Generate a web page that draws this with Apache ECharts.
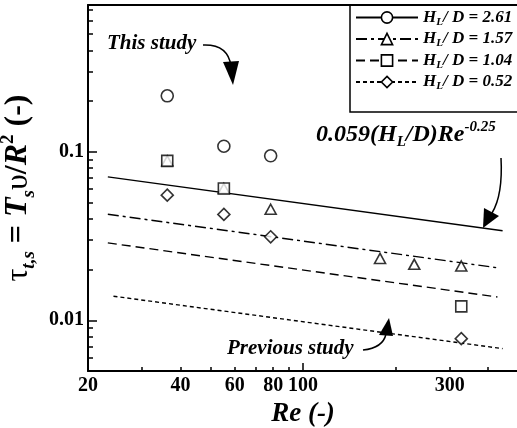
<!DOCTYPE html>
<html>
<head>
<meta charset="utf-8">
<script src="https://cdn.jsdelivr.net/npm/echarts@6/dist/echarts.min.js"></script>
<style>
  html, body { margin: 0; padding: 0; background: #fff; overflow: hidden; }
  #chart { width: 517px; height: 428px; }
</style>
</head>
<body>
<div id="chart"></div>
<script>
// axis ticks / labels
const reLabels = [20, 40, 60, 80, 100, 300];
const reMinorTicks = [20, 30, 40, 50, 60, 70, 80, 90, 200, 300, 400, 500];
const reMajorTicks = [100];
const tauLabels = [0.01, 0.1];
const tauMinorTicks = [0.006, 0.007, 0.008, 0.009, 0.02, 0.03, 0.04, 0.05, 0.06, 0.07, 0.08, 0.09, 0.2, 0.3, 0.4, 0.5, 0.6, 0.7];

const re261 = [36.2, 55.3, 78.5];
const tau261 = [0.215, 0.108, 0.0947];
const re157 = [36.2, 55.3, 78.5, 178, 230, 327];
const tau157 = [0.0884, 0.0606, 0.0456, 0.0233, 0.0215, 0.0210];
const re104 = [36.2, 55.3, 327];
const tau104 = [0.0884, 0.0606, 0.0121];
const re052 = [36.2, 55.3, 78.5, 327];
const tau052 = [0.0553, 0.0425, 0.0313, 0.00778];

// correlation lines, end points
const fitRe261 = [23.2, 445.6];
const fit261 = [0.0710, 0.0340];
const fitRe157 = [23.2, 428.6];
const fit157 = [0.0426, 0.0205];
const fitRe104 = [23.2, 428.6];
const fit104 = [0.0288, 0.01375];
const fitRe052 = [24.2, 445.6];
const fit052 = [0.0139, 0.00679];

const serif = "'Liberation Serif', 'Times New Roman', serif";
const diamond = 'path://M0,-1L1,0L0,1L-1,0Z';

const pairs = (xs, ys) => xs.map((x, i) => [x, ys[i]]);

const markStyle = { color: '#fff', borderColor: '#000', borderWidth: 1.6 };

const groups = [
  { name: 'H_L/D = 2.61', sym: 'circle', size: 12, dash: 'solid', fx: fitRe261, fy: fit261, px: re261, py: tau261 },
  { name: 'H_L/D = 1.57', sym: 'triangle', size: [11, 10], dash: [11, 4, 3, 4], fx: fitRe157, fy: fit157, px: re157, py: tau157 },
  { name: 'H_L/D = 1.04', sym: 'rect', size: 11, dash: [9, 5], fx: fitRe104, fy: fit104, px: re104, py: tau104 },
  { name: 'H_L/D = 0.52', sym: diamond, size: 12, dash: [4, 3], fx: fitRe052, fy: fit052, px: re052, py: tau052 }
];

const series = [];
groups.forEach(g => {
  series.push({
    name: g.name,
    type: 'line',
    data: pairs(g.fx, g.fy),
    showSymbol: false,
    symbol: g.sym,
    itemStyle: markStyle,
    lineStyle: { color: '#000', width: 1.4, type: g.dash },
    z: 2,
    silent: true
  });
});
groups.forEach(g => {
  series.push({
    name: g.name,
    type: 'scatter',
    data: pairs(g.px, g.py),
    symbol: g.sym,
    symbolSize: g.size,
    itemStyle: markStyle,
    z: 3,
    silent: true
  });
});

const chart = echarts.init(document.getElementById('chart'));
chart.setOption({
  animation: false,
  grid: { left: 88, top: 5, width: 430, height: 366, containLabel: false, outerBoundsMode: 'none' },
  legend: {
    data: groups.map(g => g.name),
    orient: 'vertical',
    left: 355,
    top: 9,
    padding: 0,
    itemWidth: 62,
    itemHeight: 14,
    itemGap: 3,
    selectedMode: false,
    itemStyle: { borderWidth: 1.6 },
    formatter: name => '{h|H}{s|L}{h|/ D = ' + name.split('= ')[1] + '}',
    textStyle: {
      rich: {
        h: { fontFamily: serif, fontWeight: 'bold', fontStyle: 'italic', fontSize: 17, lineHeight: 20, color: '#000' },
        s: { fontFamily: serif, fontWeight: 'bold', fontStyle: 'italic', fontSize: 11, lineHeight: 10, verticalAlign: 'bottom', color: '#000' }
      }
    }
  },
  xAxis: [
    {
      type: 'log', min: 20, max: 500, position: 'bottom',
      axisLine: { show: true, lineStyle: { color: '#000', width: 2 } },
      axisTick: { inside: true, length: 4, customValues: reMinorTicks, lineStyle: { color: '#000', width: 1.5 } },
      axisLabel: { customValues: reLabels, color: '#000', fontFamily: serif, fontWeight: 'bold', fontSize: 20, margin: 5 },
      splitLine: { show: false },
      name: 'Re (-)', nameLocation: 'middle', nameGap: 26,
      nameTextStyle: { color: '#000', fontFamily: serif, fontWeight: 'bold', fontStyle: 'italic', fontSize: 27 }
    },
    {
      type: 'log', min: 20, max: 500, position: 'bottom',
      axisLine: { show: false },
      axisTick: { inside: true, length: 8, customValues: reMajorTicks, lineStyle: { color: '#000', width: 1.5 } },
      axisLabel: { show: false },
      splitLine: { show: false }
    },
    {
      type: 'log', min: 20, max: 500, position: 'top',
      axisLine: { show: true, lineStyle: { color: '#000', width: 2 } },
      axisTick: { show: false },
      axisLabel: { show: false },
      splitLine: { show: false }
    }
  ],
  yAxis: [
    {
      type: 'log', min: 0.005, max: 0.744, position: 'left',
      axisLine: { show: true, lineStyle: { color: '#000', width: 2 } },
      axisTick: { inside: true, length: 5, customValues: tauMinorTicks, lineStyle: { color: '#000', width: 1.5 } },
      axisLabel: { customValues: tauLabels, color: '#000', fontFamily: serif, fontWeight: 'bold', fontSize: 20, margin: 4, formatter: v => String(v) },
      splitLine: { show: false },
      name: '{g|τ}{sub|t,s}{n| = }{b|T}{sub|s}{g|υ}{n|/}{b|R}{sup|2}{n| (-)}',
      nameLocation: 'middle', nameGap: 40, nameRotate: 90,
      nameTextStyle: {
        rich: {
          g: { fontFamily: serif, fontSize: 32, lineHeight: 40, color: '#000' },
          n: { fontFamily: serif, fontWeight: 'bold', fontSize: 32, lineHeight: 40, color: '#000' },
          b: { fontFamily: serif, fontWeight: 'bold', fontStyle: 'italic', fontSize: 32, lineHeight: 40, color: '#000' },
          sub: { fontFamily: serif, fontWeight: 'bold', fontStyle: 'italic', fontSize: 19, lineHeight: 14, verticalAlign: 'bottom', color: '#000' },
          sup: { fontFamily: serif, fontWeight: 'bold', fontSize: 19, lineHeight: 16, verticalAlign: 'top', color: '#000' }
        }
      }
    },
    {
      type: 'log', min: 0.005, max: 0.744, position: 'left',
      axisLine: { show: false },
      axisTick: { inside: true, length: 9, customValues: tauLabels, lineStyle: { color: '#000', width: 1.5 } },
      axisLabel: { show: false },
      splitLine: { show: false }
    }
  ],
  graphic: [
    // legend frame: left and bottom sides (top is the plot frame, right side is off the page)
    { type: 'polyline', shape: { points: [[350, 5], [350, 112], [560, 112]] }, style: { fill: 'none', stroke: '#000', lineWidth: 1.5 }, z: 10 },
    {
      type: 'text', left: 107, top: 33, z: 10,
      style: { text: 'This study', fill: '#000', font: "italic bold 21px 'Liberation Serif', serif" }
    },
    { type: 'bezierCurve', shape: { x1: 203, y1: 45, cpx1: 228, cpy1: 44, x2: 231, y2: 66 }, style: { stroke: '#000', lineWidth: 1.5, fill: 'none' }, z: 10 },
    { type: 'polygon', shape: { points: [[223, 62], [239, 61], [233, 85]] }, style: { fill: '#000' }, z: 10 },
    {
      type: 'text', left: 316, top: 120, z: 10,
      style: {
        text: '{m|0.059(H}{s|L}{m|/D)Re}{p|-0.25}',
        rich: {
          m: { fontFamily: serif, fontWeight: 'bold', fontStyle: 'italic', fontSize: 24, lineHeight: 30, fill: '#000' },
          s: { fontFamily: serif, fontWeight: 'bold', fontStyle: 'italic', fontSize: 15, lineHeight: 12, verticalAlign: 'bottom', fill: '#000' },
          p: { fontFamily: serif, fontWeight: 'bold', fontStyle: 'italic', fontSize: 15, lineHeight: 14, verticalAlign: 'top', fill: '#000' }
        }
      }
    },
    { type: 'bezierCurve', shape: { x1: 501, y1: 158, cpx1: 503, cpy1: 195, x2: 492, y2: 213 }, style: { stroke: '#000', lineWidth: 1.5, fill: 'none' }, z: 10 },
    { type: 'polygon', shape: { points: [[484, 208], [499, 216], [483, 228]] }, style: { fill: '#000' }, z: 10 },
    {
      type: 'text', left: 227, top: 338, z: 10,
      style: { text: 'Previous study', fill: '#000', font: "italic bold 21px 'Liberation Serif', serif" }
    },
    { type: 'bezierCurve', shape: { x1: 363, y1: 350, cpx1: 383, cpy1: 348, x2: 386, y2: 334 }, style: { stroke: '#000', lineWidth: 1.5, fill: 'none' }, z: 10 },
    { type: 'polygon', shape: { points: [[379, 335], [393, 336], [389, 318]] }, style: { fill: '#000' }, z: 10 }
  ],
  series: series
});
</script>
</body>
</html>
